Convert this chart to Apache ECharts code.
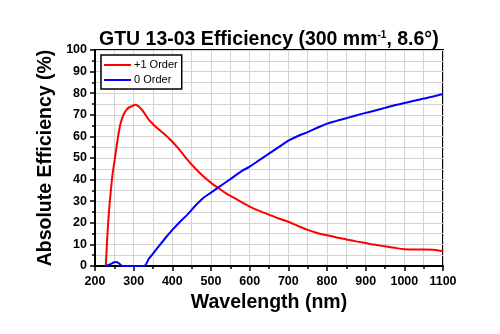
<!DOCTYPE html>
<html>
<head>
<meta charset="utf-8">
<script src="https://cdn.jsdelivr.net/npm/echarts@6/dist/echarts.min.js"></script>
<style>
  html, body { margin: 0; padding: 0; background: #fff; }
  #chart { width: 500px; height: 334px; }
</style>
</head>
<body>
<div id="chart"></div>
<script>
// +1 order efficiency (%) vs wavelength (nm)
const plusOneWavelength = [228, 232, 236, 240, 245, 250, 258, 266, 275, 285, 295, 305, 315, 325, 340, 360, 380, 400, 420, 440, 460, 480, 500, 520, 540, 560, 580, 600, 625, 650, 675, 700, 725, 750, 775, 800, 825, 850, 875, 900, 925, 950, 975, 1000, 1025, 1050, 1075, 1100];
const plusOneEfficiency = [0, 14, 25, 33, 42, 48, 58, 66, 70.5, 73, 74, 74.7, 73.5, 71.5, 67.5, 64, 61, 57.5, 53.5, 49, 45, 41.5, 38.5, 36, 33.5, 31.5, 29.5, 27.5, 25.5, 23.8, 22, 20.5, 18.5, 16.7, 15.3, 14.2, 13.2, 12.3, 11.4, 10.6, 9.8, 9.1, 8.4, 7.8, 7.6, 7.6, 7.5, 6.8];

// 0 order efficiency (%) vs wavelength (nm)
const zeroWavelength = [228, 240, 248, 255, 262, 271, 280, 300, 320, 327, 340, 360, 380, 400, 420, 440, 460, 480, 500, 520, 540, 560, 580, 600, 625, 650, 675, 700, 725, 750, 775, 800, 825, 850, 875, 900, 925, 950, 975, 1000, 1025, 1050, 1075, 1100];
const zeroEfficiency = [0, 0.8, 1.6, 1.8, 1.2, 0, 0, 0, 0, 0, 3.5, 8, 12.5, 16.7, 20.5, 24, 28, 31.5, 34, 36.5, 39, 41.5, 44, 46, 49, 52, 55, 58, 60.2, 62, 64, 65.9, 67.2, 68.4, 69.7, 70.9, 72, 73.2, 74.4, 75.5, 76.5, 77.5, 78.5, 79.6];

const seriesNames = ['+1 Order', '0 Order'];
const xTicks = { min: 200, max: 1100, step: 100 };
const yTicks = { min: 0, max: 100, step: 10 };

const pairs = (xs, ys) => xs.map((x, i) => [x, ys[i]]);

const FONT = '"Liberation Sans", Arial, sans-serif';
const gridGray = '#d4d4d4';

const chart = echarts.init(document.getElementById('chart'), null, { renderer: 'canvas' });

function axisCommon() {
  return {
    axisLine: { show: true, onZero: false, lineStyle: { color: '#000', width: 2 } },
    axisTick: { show: true, inside: false, length: 5, lineStyle: { color: '#000', width: 1.5 } },
    minorTick: { show: true, splitNumber: 2, length: 3, lineStyle: { color: '#000', width: 1.5 } },
    splitLine: { show: true, lineStyle: { color: gridGray, width: 1 } },
    minorSplitLine: { show: true, lineStyle: { color: gridGray, width: 1 } },
    axisLabel: { color: '#000', fontFamily: FONT, fontWeight: 'bold', fontSize: 12.5, formatter: v => String(v) },
    nameTextStyle: { color: '#000', fontFamily: FONT, fontWeight: 'bold', fontSize: 19.5 }
  };
}

chart.setOption({
  backgroundColor: '#fff',
  animation: false,
  title: {
    text: 'GTU 13-03 Efficiency (300 mm{sup|-1}, 8.6°)',
    left: 99,
    top: 30,
    padding: 0,
    textStyle: {
      color: '#000',
      fontFamily: FONT,
      fontWeight: 'bold',
      fontSize: 19.5,
      rich: {
        sup: { fontFamily: FONT, fontWeight: 'bold', fontSize: 10, color: '#000', padding: [0, 0, 10, 0] }
      }
    }
  },
  legend: {
    orient: 'vertical',
    left: 101,
    top: 55,
    padding: [4, 4, 3, 3],
    itemGap: 3,
    itemWidth: 27,
    itemHeight: 2,
    icon: 'rect',
    borderColor: '#000',
    borderWidth: 1.5,
    backgroundColor: '#fff',
    textStyle: { color: '#000', fontFamily: FONT, fontSize: 11, lineHeight: 12, padding: [0, 0, 0, -2] },
    data: seriesNames
  },
  grid: {
    left: 95,
    right: 57,
    top: 50,
    bottom: 68,
    show: true,
    borderColor: '#000',
    borderWidth: 2,
    backgroundColor: 'transparent'
  },
  xAxis: Object.assign(axisCommon(), {
    type: 'value',
    min: xTicks.min,
    max: xTicks.max,
    interval: xTicks.step,
    name: 'Wavelength (nm)',
    nameLocation: 'middle',
    nameGap: 25,
    axisLabel: Object.assign(axisCommon().axisLabel, { margin: 9 })
  }),
  yAxis: Object.assign(axisCommon(), {
    type: 'value',
    min: yTicks.min,
    max: yTicks.max,
    interval: yTicks.step,
    name: 'Absolute Efficiency (%)',
    nameLocation: 'middle',
    nameGap: 28,
    axisLabel: Object.assign(axisCommon().axisLabel, { margin: 8 })
  }),
  series: [
    {
      name: seriesNames[0],
      type: 'line',
      data: pairs(plusOneWavelength, plusOneEfficiency),
      smooth: 0.3,
      symbol: 'none',
      lineStyle: { color: '#ff0000', width: 2 },
      itemStyle: { color: '#ff0000' },
      z: 3
    },
    {
      name: seriesNames[1],
      type: 'line',
      data: pairs(zeroWavelength, zeroEfficiency),
      smooth: 0.3,
      symbol: 'none',
      lineStyle: { color: '#0000ff', width: 2 },
      itemStyle: { color: '#0000ff' },
      z: 4
    }
  ]
});
</script>
</body>
</html>
